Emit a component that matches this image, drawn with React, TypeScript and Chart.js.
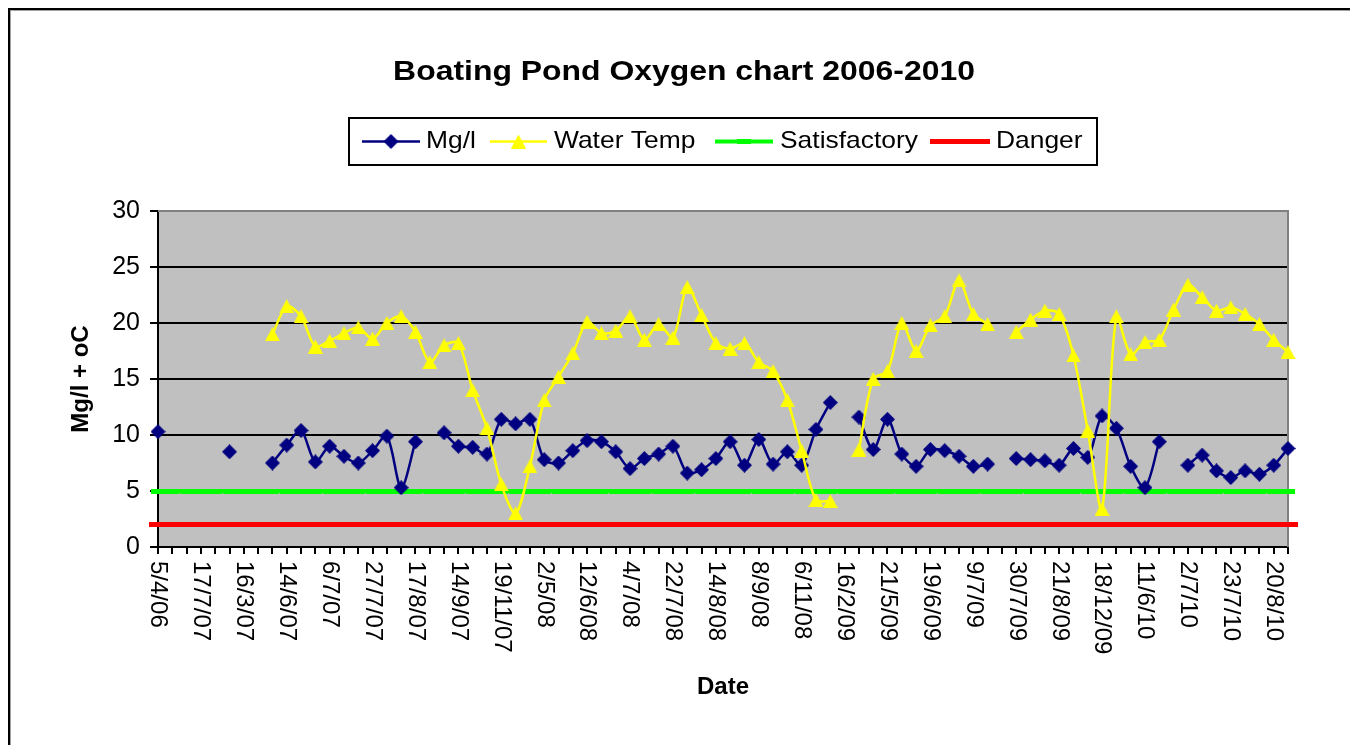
import React, { useEffect, useRef } from 'react';
import { Chart, registerables } from 'chart.js';

Chart.register(...registerables);

// ---- data ----
const tickLabels = [
  '5/4/06', '17/7/07', '16/3/07', '14/6/07', '6/7/07', '27/7/07', '17/8/07', '14/9/07', '19/11/07',
  '2/5/08', '12/6/08', '4/7/08', '22/7/08', '14/8/08', '8/9/08', '6/11/08', '16/2/09', '21/5/09',
  '19/6/09', '9/7/09', '30/7/09', '21/8/09', '18/12/09', '11/6/10', '2/7/10', '23/7/10', '20/8/10',
];

const mgl: (number | null)[] = [
  10.3, null, null, null, null, 8.5, null, null, 7.5, 9.1,
  10.4, 7.6, 9.0, 8.1, 7.5, 8.6, 9.9, 5.3, 9.4, null,
  10.2, 9.0, 8.9, 8.3, 11.4, 11.0, 11.4, 7.8, 7.5, 8.6,
  9.5, 9.4, 8.5, 7.0, 7.9, 8.3, 9.0, 6.6, 6.9, 7.9,
  9.4, 7.3, 9.6, 7.4, 8.5, 7.3, 10.5, 12.9, null, 11.6,
  8.7, 11.4, 8.3, 7.2, 8.7, 8.6, 8.1, 7.2, 7.4, null,
  7.9, 7.8, 7.7, 7.3, 8.8, 8.0, 11.7, 10.6, 7.2, 5.3,
  9.4, null, 7.3, 8.2, 6.8, 6.2, 6.8, 6.5, 7.3, 8.8,
];

const waterTemp: (number | null)[] = [
  null, null, null, null, null, null, null, null, 19.0, 21.5,
  20.6, 17.9, 18.4, 19.1, 19.6, 18.6, 20.0, 20.6, 19.2, 16.5,
  18.0, 18.2, 14.0, 10.6, 5.6, 3.0, 7.2, 13.1, 15.2, 17.3,
  20.1, 19.1, 19.3, 20.6, 18.5, 19.9, 18.7, 23.2, 20.7, 18.2,
  17.7, 18.2, 16.5, 15.7, 13.1, 8.6, 4.2, 4.1, null, 8.7,
  15.0, 15.7, 20.0, 17.5, 19.8, 20.6, 23.8, 20.8, 19.9, null,
  19.2, 20.3, 21.1, 20.8, 17.1, 10.4, 3.4, 20.6, 17.2, 18.3,
  18.5, 21.2, 23.4, 22.3, 21.1, 21.4, 20.8, 19.9, 18.5, 17.4,
];

const satisfactory: number[] = [
  5, 5, 5, 5, 5, 5, 5, 5, 5, 5,
  5, 5, 5, 5, 5, 5, 5, 5, 5, 5,
  5, 5, 5, 5, 5, 5, 5, 5, 5, 5,
  5, 5, 5, 5, 5, 5, 5, 5, 5, 5,
  5, 5, 5, 5, 5, 5, 5, 5, 5, 5,
  5, 5, 5, 5, 5, 5, 5, 5, 5, 5,
  5, 5, 5, 5, 5, 5, 5, 5, 5, 5,
  5, 5, 5, 5, 5, 5, 5, 5, 5, 5,
];

const danger: number[] = [
  2, 2, 2, 2, 2, 2, 2, 2, 2, 2,
  2, 2, 2, 2, 2, 2, 2, 2, 2, 2,
  2, 2, 2, 2, 2, 2, 2, 2, 2, 2,
  2, 2, 2, 2, 2, 2, 2, 2, 2, 2,
  2, 2, 2, 2, 2, 2, 2, 2, 2, 2,
  2, 2, 2, 2, 2, 2, 2, 2, 2, 2,
  2, 2, 2, 2, 2, 2, 2, 2, 2, 2,
  2, 2, 2, 2, 2, 2, 2, 2, 2, 2,
];

const chartTitle = 'Boating Pond Oxygen chart 2006-2010';
const yTitle = 'Mg/l + oC';
const xTitle = 'Date';
const yMin = 0;
const yMax = 30;
const yStep = 5;

// one category per reading; every third one carries a date label
const categories = mgl.map((_, i) => (i % 3 === 0 ? tickLabels[i / 3] : ''));

// ---- layout / style constants (canvas px) ----
const W = 1340;
const H = 735;
const FONT = "'Liberation Sans', Arial, Helvetica, sans-serif";
const LEGEND_BOX = { x: 339, y: 108, w: 748, h: 47 };
const LEGEND_ITEMS = [
  { x0: 352, x1: 410, tx: 416 },
  { x0: 480, x1: 537, tx: 544 },
  { x0: 705, x1: 763, tx: 770 },
  { x0: 920, x1: 980, tx: 986 },
];

function makeMarker(kind: string, color: string): HTMLCanvasElement {
  const c = document.createElement('canvas');
  if (kind === 'diamond') {
    c.width = 15; c.height = 15;
    const g = c.getContext('2d')!;
    g.fillStyle = color;
    g.beginPath();
    g.moveTo(7.5, 0); g.lineTo(15, 7.5); g.lineTo(7.5, 15); g.lineTo(0, 7.5);
    g.closePath(); g.fill();
  } else if (kind === 'triangle') {
    c.width = 15; c.height = 14;
    const g = c.getContext('2d')!;
    g.fillStyle = color;
    g.beginPath();
    g.moveTo(7.5, 0); g.lineTo(15, 14); g.lineTo(0, 14);
    g.closePath(); g.fill();
  } else if (kind === 'dashS') {
    c.width = 14; c.height = 5;
    const g = c.getContext('2d')!;
    g.fillStyle = color; g.fillRect(0, 0, 14, 5);
  } else {
    c.width = 19; c.height = 5;
    const g = c.getContext('2d')!;
    g.fillStyle = color; g.fillRect(0, 0, 19, 5);
  }
  return c;
}

function stretchedText(ctx: CanvasRenderingContext2D, text: string, x: number, y: number,
  font: string, sx: number, align: CanvasTextAlign) {
  ctx.save();
  ctx.font = font;
  ctx.fillStyle = '#000';
  ctx.textBaseline = 'middle';
  ctx.textAlign = align;
  ctx.translate(x, y);
  ctx.scale(sx, 1);
  ctx.fillText(text, 0, 0);
  ctx.restore();
}

const decorPlugin = {
  id: 'decor',
  beforeDraw(chart: any) {
    const { ctx, chartArea: a } = chart;
    ctx.save();
    ctx.fillStyle = '#C0C0C0';
    ctx.fillRect(a.left, a.top, a.right - a.left, a.bottom - a.top);
    ctx.restore();
  },
  beforeDatasetsDraw(chart: any) {
    const { ctx, chartArea: a } = chart;
    ctx.save();
    ctx.strokeStyle = '#808080';
    ctx.lineWidth = 2;
    ctx.beginPath();
    ctx.moveTo(a.left, a.top);
    ctx.lineTo(a.right, a.top);
    ctx.lineTo(a.right, a.bottom);
    ctx.stroke();
    ctx.restore();
  },
  afterDraw(chart: any) {
    const { ctx } = chart;
    // title
    stretchedText(ctx, chartTitle, 674, 62, `bold 28px ${FONT}`, 1.14, 'center');

    // legend
    ctx.save();
    ctx.strokeStyle = '#000';
    ctx.lineWidth = 2;
    ctx.strokeRect(LEGEND_BOX.x, LEGEND_BOX.y, LEGEND_BOX.w, LEGEND_BOX.h);
    const cy = LEGEND_BOX.y + LEGEND_BOX.h / 2;
    chart.data.datasets.forEach((ds: any, i: number) => {
      const it = LEGEND_ITEMS[i];
      ctx.strokeStyle = ds.borderColor;
      ctx.lineWidth = ds.borderWidth;
      ctx.beginPath();
      ctx.moveTo(it.x0, cy);
      ctx.lineTo(it.x1, cy);
      ctx.stroke();
      const m = ds.pointStyle as HTMLCanvasElement;
      const mx = (it.x0 + it.x1) / 2;
      ctx.drawImage(m, mx - m.width / 2, cy - m.height / 2);
      stretchedText(ctx, ds.label, it.tx, cy, `24px ${FONT}`, 1.1, 'left');
    });
    ctx.restore();

    // rotated date labels (reading downward)
    const xs = chart.scales.x;
    ctx.save();
    ctx.font = `24px ${FONT}`;
    ctx.fillStyle = '#000';
    (chart.data.labels as string[]).forEach((lab: string, i: number) => {
      if (!lab) return;
      const px = xs.getPixelForValue(i);
      ctx.save();
      ctx.translate(px, 551);
      ctx.rotate(Math.PI / 2);
      ctx.textAlign = 'left';
      ctx.textBaseline = 'middle';
      ctx.fillText(lab, 0, 0);
      ctx.restore();
    });
    ctx.restore();
  },
};

export default function App() {
  const ref = useRef<HTMLCanvasElement>(null);

  useEffect(() => {
    const canvas = ref.current;
    if (!canvas) return;
    Chart.defaults.font.family = FONT;
    Chart.defaults.color = '#000';

    const diamond = makeMarker('diamond', '#000080');
    const triangle = makeMarker('triangle', '#FFFF00');
    const dashS = makeMarker('dashS', '#00FF00');
    const dashD = makeMarker('dashD', '#FF0000');

    const chart = new Chart(canvas, {
      type: 'line',
      data: {
        labels: categories,
        datasets: [
          {
            label: 'Mg/l', data: mgl, borderColor: '#000080', backgroundColor: '#000080',
            borderWidth: 2.5, pointStyle: diamond as any, pointRadius: 7, tension: 0.3,
            spanGaps: false, clip: false as any, order: 1,
          },
          {
            label: 'Water Temp', data: waterTemp, borderColor: '#FFFF00', backgroundColor: '#FFFF00',
            borderWidth: 2.5, pointStyle: triangle as any, pointRadius: 7, tension: 0.3,
            spanGaps: false, clip: false as any, order: 0,
          },
          {
            label: 'Satisfactory', data: satisfactory, borderColor: '#00FF00', backgroundColor: '#00FF00',
            borderWidth: 4, pointStyle: dashS as any, pointRadius: 7, tension: 0,
            clip: false as any, order: 2,
          },
          {
            label: 'Danger', data: danger, borderColor: '#FF0000', backgroundColor: '#FF0000',
            borderWidth: 5, pointStyle: dashD as any, pointRadius: 9, tension: 0,
            clip: false as any, order: 3,
          },
        ],
      },
      options: {
        responsive: false,
        animation: false,
        devicePixelRatio: 1,
        events: [],
        layout: { padding: { left: 0, right: 62, top: 201, bottom: 0 } },
        plugins: {
          legend: { display: false },
          title: { display: false },
          tooltip: { enabled: false },
        },
        scales: {
          x: {
            type: 'category',
            offset: false,
            ticks: { display: false, autoSkip: false },
            grid: {
              display: true, drawOnChartArea: false, drawTicks: true, tickLength: 7,
              color: '#000', tickColor: '#000', lineWidth: 2,
            },
            border: { display: true, color: '#000', width: 2 },
            title: {
              display: true, text: xTitle, color: '#000',
              font: { size: 24, weight: 'bold' }, padding: { top: 0, bottom: 43.6 },
            },
            afterFit: (s: any) => { s.height = 198; },
          },
          y: {
            min: yMin,
            max: yMax,
            ticks: { stepSize: yStep, color: '#000', font: { size: 25 }, padding: 10 },
            grid: {
              color: (c: any) => (c.tick && c.tick.value === yMax ? '#808080' : '#000'),
              tickColor: '#000', lineWidth: 2, tickLength: 8, drawTicks: true,
            },
            border: { display: true, color: '#000', width: 2 },
            title: {
              display: true, text: yTitle, color: '#000',
              font: { size: 24, weight: 'bold' }, padding: { top: 56.6, bottom: 0 },
            },
            afterFit: (s: any) => { s.width = 148; },
          },
        },
      } as any,
      plugins: [decorPlugin],
    });

    return () => chart.destroy();
  }, []);

  return (
    <div
      style={{
        position: 'fixed', left: 8, top: 8,
        width: W, height: H,
        borderLeft: '2px solid #000', borderTop: '2px solid #000',
        boxShadow: 'inset 1px 1px 0 #a0a0a0',
        overflow: 'hidden', background: '#fff',
      }}
    >
      <canvas ref={ref} width={W} height={H} style={{ display: 'block', width: W, height: H }} />
    </div>
  );
}
